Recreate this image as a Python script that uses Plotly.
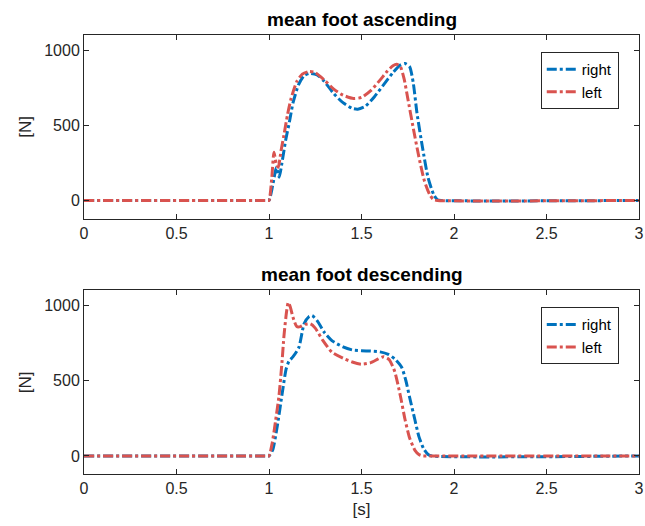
import plotly.graph_objects as go
from plotly.subplots import make_subplots

# ascending
asc_t_right = [0, 0.99, 1.0, 1.02, 1.04, 1.055, 1.07, 1.09, 1.11, 1.13, 1.16, 1.19, 1.22, 1.26, 1.30, 1.35, 1.40,
               1.45, 1.48, 1.52, 1.57, 1.62, 1.67, 1.71, 1.735, 1.76, 1.78, 1.80, 1.83, 1.86, 1.89, 1.91, 1.93, 3.0]
asc_right = [0, 0, 0, 100, 220, 155, 250, 400, 520, 650, 770, 830, 845, 835, 790, 710, 650,
             612, 607, 625, 690, 770, 850, 900, 911, 890, 780, 580, 350, 150, 40, 5, 0, 0]
asc_t_left = [0, 0.99, 1.0, 1.015, 1.027, 1.04, 1.05, 1.065, 1.08, 1.10, 1.12, 1.15, 1.18, 1.215, 1.25, 1.30, 1.35,
              1.40, 1.457, 1.50, 1.55, 1.60, 1.64, 1.67, 1.69, 1.71, 1.73, 1.75, 1.78, 1.81, 1.84, 1.87, 1.89, 1.91, 3.0]
asc_left = [0, 0, 0, 150, 320, 240, 220, 330, 430, 570, 680, 790, 840, 857, 850, 800, 740,
            700, 678, 685, 730, 800, 860, 895, 905, 890, 810, 680, 480, 290, 130, 35, 5, 0, 0]

# descending
desc_t_right = [0, 0.99, 1.0, 1.02, 1.045, 1.072, 1.093, 1.108, 1.13, 1.161, 1.19, 1.215, 1.233, 1.26, 1.30, 1.34,
                1.40, 1.45, 1.50, 1.55, 1.60, 1.645, 1.68, 1.717, 1.74, 1.76, 1.788, 1.81, 1.835, 1.86, 1.88, 3.0]
desc_right = [0, 0, 0, 40, 200, 422, 580, 630, 660, 720, 880, 925, 933, 900, 820, 767,
              725, 705, 700, 697, 692, 675, 645, 590, 500, 390, 244, 130, 50, 10, 0, 0]
desc_t_left = [0, 0.99, 1.0, 1.018, 1.035, 1.054, 1.07, 1.081, 1.095, 1.104, 1.115, 1.13, 1.15, 1.17, 1.195, 1.224,
               1.25, 1.29, 1.34, 1.40, 1.45, 1.50, 1.55, 1.59, 1.62, 1.65, 1.68, 1.71, 1.735, 1.76, 1.79, 1.81, 1.83, 1.85, 3.0]
desc_left = [0, 0, 0, 90, 230, 400, 620, 800, 960, 1020, 990, 920, 860, 860, 875, 878,
             850, 770, 690, 650, 625, 610, 620, 645, 660, 640, 560, 400, 244, 120, 35, 10, 0, 0, 0]

x_ticks = [0, 0.5, 1, 1.5, 2, 2.5, 3]
x_tick_labels = ["0", "0.5", "1", "1.5", "2", "2.5", "3"]
y_ticks = [0, 500, 1000]
titles = ["mean foot ascending", "mean foot descending"]

BLUE = "#0072BD"
RED = "#D9534F"
DASH = "10px,3px,3px,3px"
FONT = "Liberation Sans, Arial, sans-serif"
AX = "#262626"

fig = make_subplots(rows=2, cols=1, vertical_spacing=0.164)

def line(color, width=3):
    return dict(color=color, width=width, dash=DASH, shape="spline", smoothing=0.6)

fig.add_trace(go.Scatter(x=asc_t_right, y=asc_right, mode="lines", name="right", line=line(BLUE), legend="legend"), 1, 1)
fig.add_trace(go.Scatter(x=asc_t_left, y=asc_left, mode="lines", name="left", line=line(RED), legend="legend"), 1, 1)
fig.add_trace(go.Scatter(x=desc_t_right, y=desc_right, mode="lines", name="right", line=line(BLUE), legend="legend2"), 2, 1)
fig.add_trace(go.Scatter(x=desc_t_left, y=desc_left, mode="lines", name="left", line=line(RED), legend="legend2"), 2, 1)

axis_common = dict(showline=True, linecolor=AX, linewidth=1, mirror="ticks", ticks="inside",
                   ticklen=5, tickcolor=AX, showgrid=False, zeroline=False,
                   ticklabeloverflow="allow", automargin=False,
                   tickfont=dict(family=FONT, size=16, color=AX))

for r in (1, 2):
    fig.update_xaxes(range=[0, 3], tickvals=x_ticks, ticktext=x_tick_labels, row=r, col=1, **axis_common)
    fig.update_yaxes(range=[-120, 1100], tickvals=y_ticks, row=r, col=1,
                     title=dict(text="[N]", font=dict(family=FONT, size=17, color=AX), standoff=8),
                     **axis_common)
fig.update_xaxes(title=dict(text="[s]", font=dict(family=FONT, size=17, color=AX), standoff=6), row=2, col=1)

leg_common = dict(xanchor="left", yanchor="top", bordercolor=AX, borderwidth=1,
                  bgcolor="white", font=dict(family=FONT, size=15, color="black"), tracegroupgap=0, itemwidth=30)

fig.update_layout(
    width=645, height=526,
    margin=dict(l=84, r=6, t=35, b=52, autoexpand=False),
    paper_bgcolor="white", plot_bgcolor="white",
    font=dict(family=FONT, size=15, color=AX),
    legend=dict(x=0.823, y=0.961, **leg_common),
    legend2=dict(x=0.823, y=0.380, **leg_common),
    annotations=[
        dict(text="<b>" + titles[0] + "</b>", x=0.5, y=1.0, xref="paper", yref="paper", xanchor="center",
             yanchor="bottom", yshift=3, showarrow=False, font=dict(family=FONT, size=19, color="black")),
        dict(text="<b>" + titles[1] + "</b>", x=0.5, y=0.419, xref="paper", yref="paper", xanchor="center",
             yanchor="bottom", yshift=3, showarrow=False, font=dict(family=FONT, size=19, color="black")),
    ],
)

fig.write_html("out.html")
